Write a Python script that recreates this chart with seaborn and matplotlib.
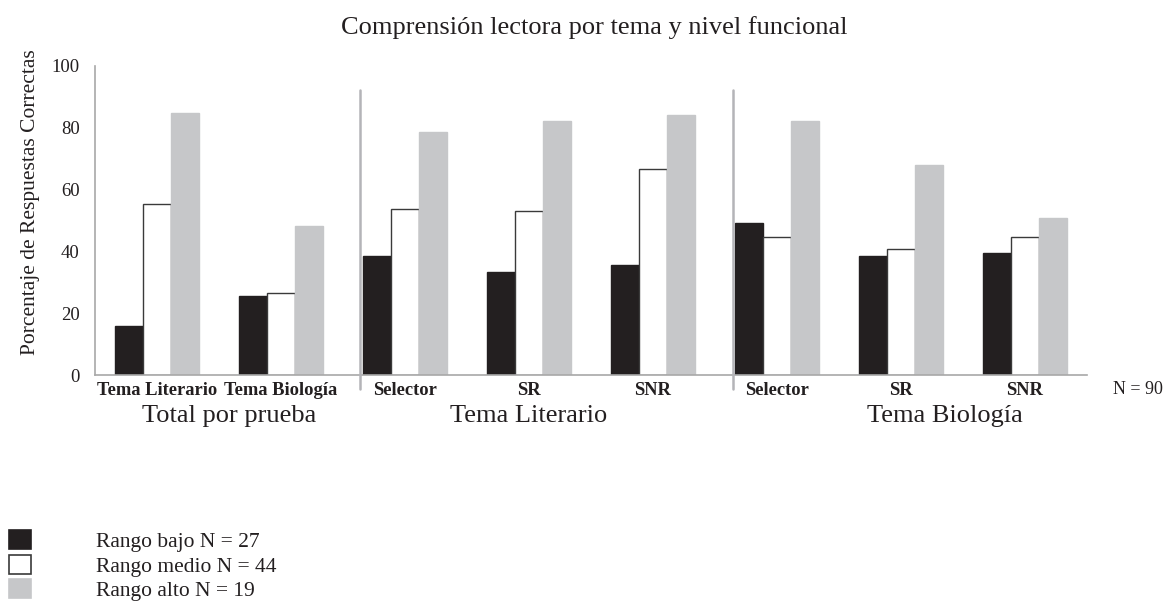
import matplotlib
matplotlib.use("Agg")
import matplotlib.pyplot as plt
import seaborn as sns
import pandas as pd
import numpy as np
from matplotlib.patches import Patch

# ---- data ----
categories = ["Tema Literario", "Tema Biología", "Selector", "SR", "SNR", "Selector", "SR", "SNR"]
cat_keys = ["Total|Lit", "Total|Bio", "Lit|Sel", "Lit|SR", "Lit|SNR", "Bio|Sel", "Bio|SR", "Bio|SNR"]
series = ["Rango bajo N = 27", "Rango medio N = 44", "Rango alto N = 19"]
bajo = [15.7, 25.5, 38.4, 33.4, 35.5, 49.3, 38.4, 39.6]
medio = [55.5, 26.6, 53.6, 53.0, 66.6, 44.5, 40.7, 44.5]
alto = [84.7, 48.3, 78.8, 82.1, 84.2, 82.1, 68.1, 50.8]
group_titles = ["Total por prueba", "Tema Literario", "Tema Biología"]
yticks = [0, 20, 40, 60, 80, 100]

colors = ["#231f20", "#ffffff", "#c6c7c9"]
edges = ["#231f20", "#3a3a3a", "#c6c7c9"]
axis_gray = "#a8a8a8"

df = pd.DataFrame({
    "cat": cat_keys * 3,
    "serie": [series[0]] * 8 + [series[1]] * 8 + [series[2]] * 8,
    "valor": bajo + medio + alto,
})

sns.set_style("white")
plt.rcParams["font.family"] = ["Liberation Serif", "DejaVu Serif"]

fig = plt.figure(figsize=(11.65, 6.14), dpi=100)
ax = fig.add_axes([95 / 1165, 1 - 375 / 614, (1087 - 95) / 1165, (375 - 66) / 614])

sns.barplot(data=df, x="cat", y="valor", hue="serie", order=cat_keys, hue_order=series,
            palette=colors, width=0.67, gap=0, saturation=1, errorbar=None, ax=ax, legend=False)

for cont, ec in zip(ax.containers, edges):
    for bar in cont:
        bar.set_edgecolor(ec)
        bar.set_linewidth(1.0)

ax.set_ylim(0, 100)
ax.set_xlim(-0.5, 7.5)
ax.set_yticks(yticks)
ax.set_yticklabels([str(v) for v in yticks], fontsize=13.5, color="#231f20")
ax.set_ylabel("Porcentaje de Respuestas Correctas", fontsize=15.5, color="#231f20")
ax.yaxis.set_label_coords(-0.0555, 0.56)
ax.set_xlabel("")

# x ticks: marks at boundaries, labels at centers
ax.set_xticks(np.arange(-0.5, 8, 1.0))
ax.set_xticklabels([""] * 9)
ax.set_xticks(np.arange(8), minor=True)
ax.set_xticklabels(categories, minor=True, fontsize=13.3, fontweight="bold", color="#231f20")
ax.tick_params(axis="x", which="major", direction="out", length=5, width=1, color=axis_gray)
ax.tick_params(axis="x", which="minor", length=0, pad=5)
ax.tick_params(axis="y", direction="out", length=5, width=1, color=axis_gray, pad=6)

for s in ["top", "right"]:
    ax.spines[s].set_visible(False)
for s in ["left", "bottom"]:
    ax.spines[s].set_color(axis_gray)
    ax.spines[s].set_linewidth(1.2)

# group separators
for xs in [1.64, 4.648]:
    ax.plot([xs, xs], [-4.5, 92.3], color="#b4b4b8", lw=1.8, clip_on=False, zorder=3)

# group titles
for xg, t in zip([0.58, 3.0, 6.35], group_titles):
    ax.text(xg, -13.3, t, ha="center", va="center", fontsize=19, color="#231f20",
            transform=ax.transData)

fig.text(1163 / 1165, 1 - 389 / 614, "N = 90", ha="right", va="center", fontsize=13, color="#231f20")

fig.text(594 / 1165, 1 - 28 / 614, "Comprensión lectora por tema y nivel funcional",
         ha="center", va="center", fontsize=19, color="#231f20")

handles = [Patch(facecolor=colors[i], edgecolor=edges[i], linewidth=1.2) for i in range(3)]
fig.legend(handles, series, loc="upper left", bbox_to_anchor=(9 / 1165, 1 - 530 / 614),
           frameon=False, fontsize=15.5, handlelength=1.0, handleheight=1.0,
           handletextpad=3.05, labelspacing=0.12, borderpad=0, borderaxespad=0,
           labelcolor="#231f20")

fig.savefig("out.png", dpi=100)
